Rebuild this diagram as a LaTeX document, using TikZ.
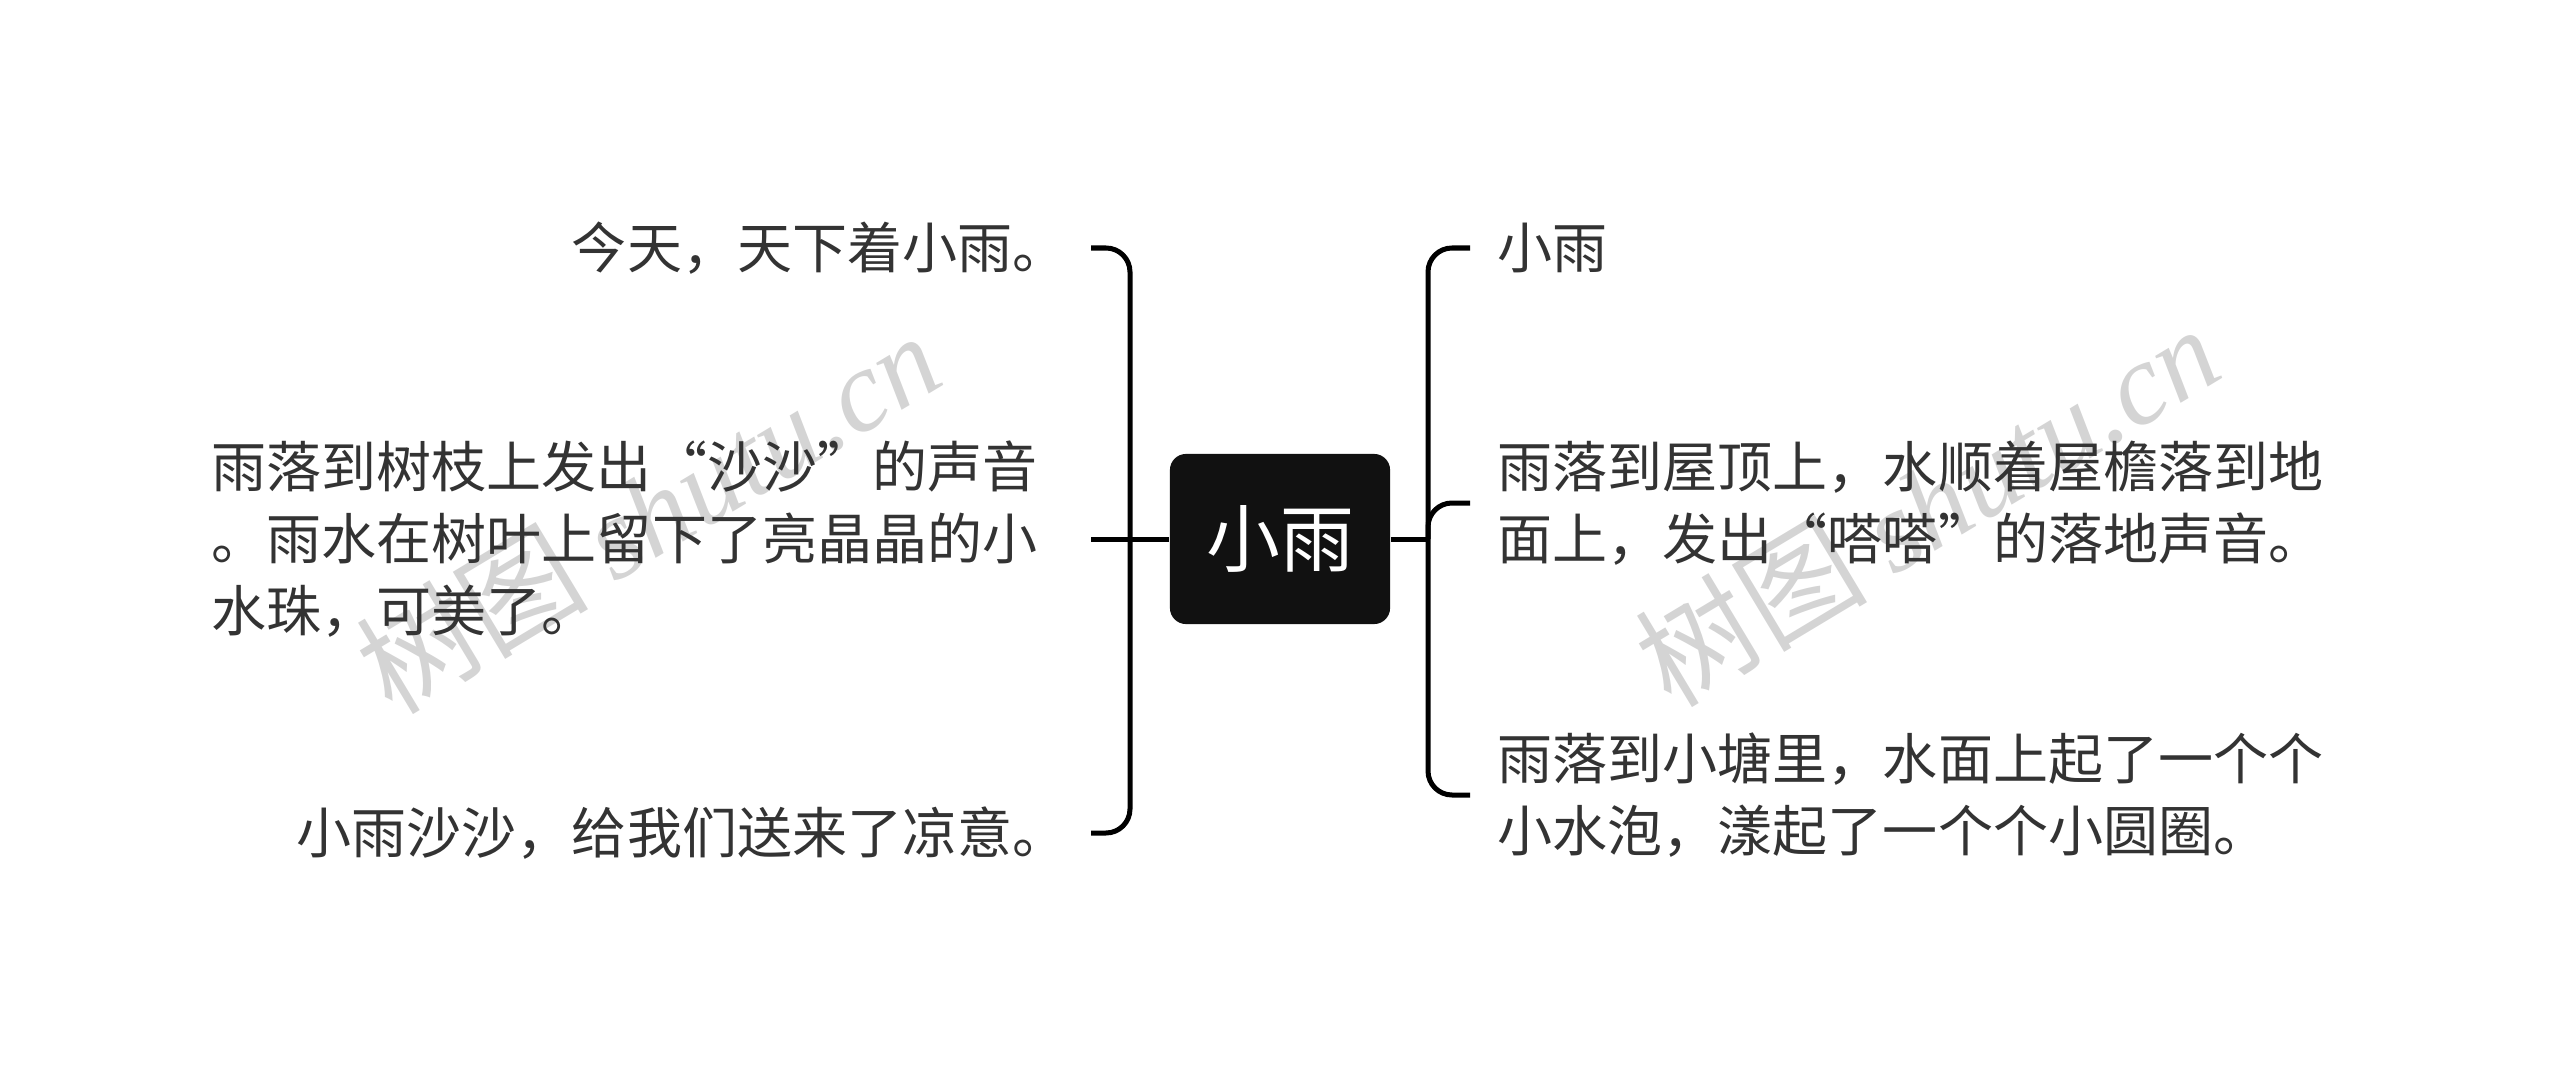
\documentclass[tikz,border=0pt]{standalone}
\usepackage{fontspec}
\setmainfont{Noto Sans CJK SC}
\newfontfamily\fwfont[RawFeature=+fwid]{Noto Sans CJK SC}
\newfontfamily\markfont{Liberation Serif}
\newcommand{\oquo}{{\fwfont “}}
\newcommand{\cquo}{{\fwfont ”}}
\definecolor{ink}{HTML}{333333}
\definecolor{rootfill}{HTML}{111111}
\definecolor{wmgray}{HTML}{D4D4D4}
\tikzset{
  link/.style={line width=0.05cm, black},
  bracket/.style={link, rounded corners=0.24cm},
  root/.style={fill=rootfill, rounded corners=0.16cm, minimum width=2.2cm, minimum height=1.7cm,
    text=white, font=\fontsize{21pt}{24pt}\selectfont},
  topic/.style={text=ink, inner ysep=0pt, align=left, font=\fontsize{15.65pt}{20.5pt}\selectfont},
  ltopic/.style={topic, anchor=east, inner xsep=0.53cm},
  rtopic/.style={topic, anchor=west, inner xsep=0.27cm},
  wmark/.style={text=wmgray, rotate=31, font=\fontsize{33pt}{33pt}\selectfont},
}

\begin{document}
\begin{tikzpicture}[x=0.01cm,y=-0.01cm]
  \useasboundingbox (0,0) rectangle (2560,1079);
  % watermark
  \node[wmark] (wm1) at (648,512) {树图 {\markfont\itshape shutu.cn}};
  \node[wmark] (wm2) at (1927,505) {树图 {\markfont\itshape shutu.cn}};

  \node[root] (root) at (1280,539) {小雨};

  \node[ltopic, inner xsep=0.23cm] (l1) at (1091,248) {今天，天下着小雨。};
  \node[ltopic] (l2) at (1091,539) {雨落到树枝上发出\oquo 沙沙\cquo 的声音\\。雨水在树叶上留下了亮晶晶的小\\水珠，可美了。};
  \node[ltopic, inner xsep=0.23cm] (l3) at (1091,833) {小雨沙沙，给我们送来了凉意。};

  \node[rtopic] (r1) at (1470,248) {小雨};
  \node[rtopic] (r2) at (1470,503) {雨落到屋顶上，水顺着屋檐落到地\\面上，发出\oquo 嗒嗒\cquo 的落地声音。};
  \node[rtopic] (r3) at (1470,795) {雨落到小塘里，水面上起了一个个\\小水泡，漾起了一个个小圆圈。};

  \coordinate (jl) at (1130,539);
  \coordinate (jr) at (1428,539);

  \draw[link] (root.west) -- (l2.east);
  \draw[bracket] (l1.east) -| (jl) |- (l3.east);
  \draw[link] (root.east) -- (jr);
  \draw[bracket] (r1.west) -| (jr) |- (r3.west);
  \draw[bracket] (jr) |- (r2.west);
\end{tikzpicture}
\end{document}
